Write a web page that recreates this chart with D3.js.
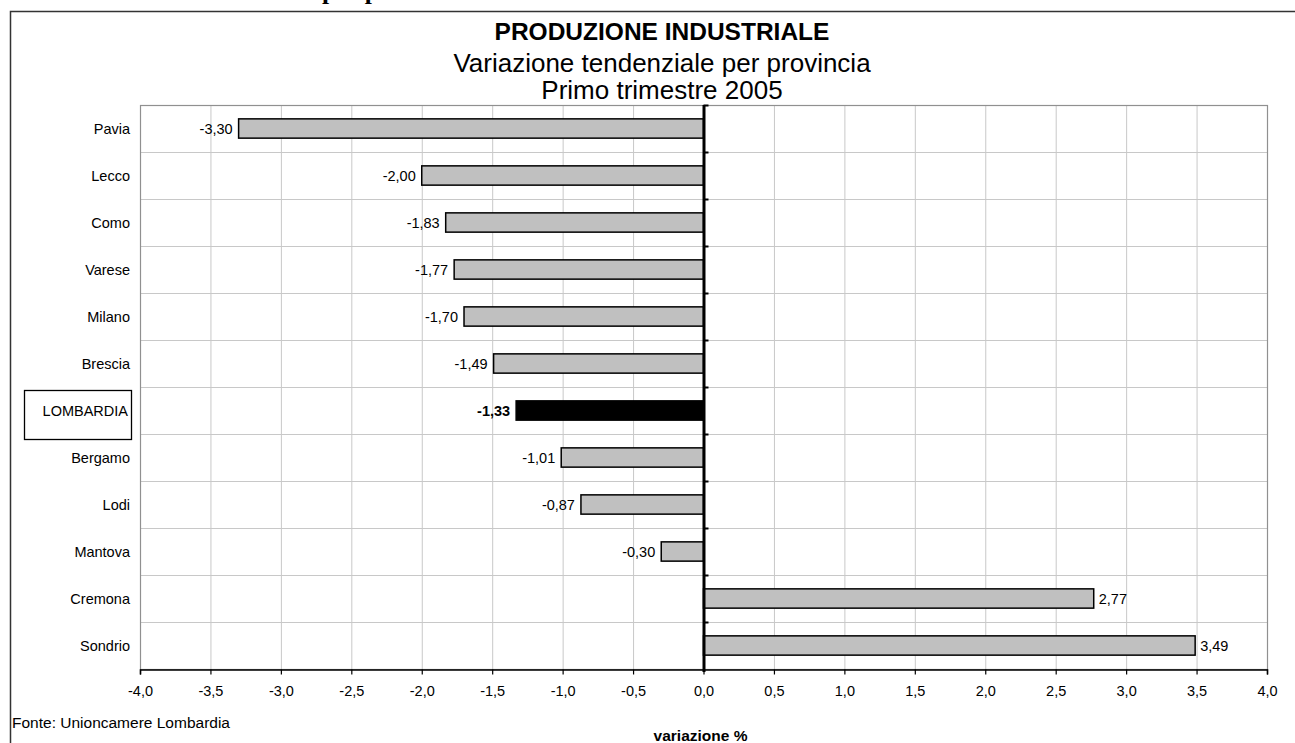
<!DOCTYPE html>
<html lang="it">
<head>
  <meta charset="UTF-8" />
  <title>Produzione industriale - variazione tendenziale per provincia</title>
  <style>
    body { margin: 0; background: #fff; }
    svg { display: block; font-family: Arial, "Liberation Sans", sans-serif; }
  </style>
</head>
<body>
  <svg width="1295" height="743"></svg>

  <script src="https://cdnjs.cloudflare.com/ajax/libs/d3/7.8.5/d3.min.js"></script>
  <script>
    // data
    const provinces = ["Pavia", "Lecco", "Como", "Varese", "Milano", "Brescia", "LOMBARDIA",
                       "Bergamo", "Lodi", "Mantova", "Cremona", "Sondrio"];
    const values = [-3.30, -2.00, -1.83, -1.77, -1.70, -1.49, -1.33, -1.01, -0.87, -0.30, 2.77, 3.49];
    const xTicks = [-4, -3.5, -3, -2.5, -2, -1.5, -1, -0.5, 0, 0.5, 1, 1.5, 2, 2.5, 3, 3.5, 4];
    const titles = ["PRODUZIONE INDUSTRIALE", "Variazione tendenziale per provincia", "Primo trimestre 2005"];
    const total = "LOMBARDIA";

    const rows = provinces.map((p, i) => ({ name: p, value: values[i] }));
    const fmt = v => d3.format(".2f")(v).replace(".", ",").replace("−", "-");
    const fmtTick = v => d3.format(".1f")(v).replace(".", ",").replace("−", "-");

    const svg = d3.select("svg");

    const plotLeft = 140, plotRight = 1267, plotTop = 105, plotBottom = 669;
    const small = 14.5;

    const x = d3.scaleLinear().domain([-4, 4]).range([plotLeft, plotRight]);
    const y = d3.scaleBand().domain(provinces).range([plotTop, plotBottom]).padding(0);
    const barH = y.bandwidth() * 0.41;

    // cut-off heading from the page above
    const serif = "'Liberation Serif', 'Times New Roman', serif";
    svg.append("text")
      .attr("x", 322).attr("y", -1.5)
      .attr("text-anchor", "end")
      .attr("font-family", serif)
      .attr("font-weight", "bold").attr("font-size", 25.5)
      .text("Produzione industriale ");
    svg.append("text")
      .attr("x", 322).attr("y", -1.5)
      .attr("font-family", serif)
      .attr("font-weight", "bold").attr("font-size", 25.5)
      .text("per provincia");

    // outer chart frame (runs off the right and bottom edges)
    svg.append("rect")
      .attr("x", 10.5).attr("y", 11.5)
      .attr("width", 1320).attr("height", 760)
      .attr("fill", "none").attr("stroke", "#333").attr("stroke-width", 1.5);

    // titles, centred on the whole chart frame
    svg.selectAll(".title")
      .data(titles)
      .join("text")
      .attr("class", "title")
      .attr("x", 662)
      .attr("y", (d, i) => [40, 71.5, 99][i])
      .attr("text-anchor", "middle")
      .attr("font-size", (d, i) => i === 0 ? 24.5 : 26)
      .attr("font-weight", (d, i) => i === 0 ? "bold" : "normal")
      .text(d => d);

    // vertical grid lines
    svg.append("g")
      .selectAll("line")
      .data(xTicks)
      .join("line")
      .attr("x1", d => x(d) + 0.5).attr("x2", d => x(d) + 0.5)
      .attr("y1", plotTop).attr("y2", plotBottom)
      .attr("stroke", "#c8c8c8").attr("stroke-width", 1);

    // horizontal grid lines at category boundaries
    svg.append("g")
      .selectAll("line")
      .data(provinces.slice(1))
      .join("line")
      .attr("x1", plotLeft).attr("x2", plotRight)
      .attr("y1", d => y(d) + 0.5).attr("y2", d => y(d) + 0.5)
      .attr("stroke", "#c8c8c8").attr("stroke-width", 1);

    // plot border
    svg.append("rect")
      .attr("x", plotLeft + 0.5).attr("y", plotTop + 0.5)
      .attr("width", plotRight - plotLeft).attr("height", plotBottom - plotTop)
      .attr("fill", "none").attr("stroke", "#909090").attr("stroke-width", 1.2);

    // bars
    svg.append("g")
      .selectAll("rect")
      .data(rows)
      .join("rect")
      .attr("x", d => x(Math.min(0, d.value)))
      .attr("y", d => y(d.name) + (y.bandwidth() - barH) / 2)
      .attr("width", d => Math.abs(x(d.value) - x(0)))
      .attr("height", barH)
      .attr("fill", d => d.name === total ? "#000" : "#c0c0c0")
      .attr("stroke", "#000").attr("stroke-width", 1.5);

    // value labels
    svg.append("g")
      .selectAll("text")
      .data(rows)
      .join("text")
      .attr("x", d => d.value < 0 ? x(d.value) - 6 : x(d.value) + 5)
      .attr("y", d => y(d.name) + y.bandwidth() / 2 + 5)
      .attr("text-anchor", d => d.value < 0 ? "end" : "start")
      .attr("font-size", small)
      .attr("font-weight", d => d.name === total ? "bold" : "normal")
      .text(d => fmt(d.value));

    // category labels
    svg.append("g")
      .selectAll("text")
      .data(provinces)
      .join("text")
      .attr("x", d => d === total ? 128 : 130)
      .attr("y", d => y(d) + y.bandwidth() / 2 + 5)
      .attr("text-anchor", "end")
      .attr("font-size", small)
      .text(d => d);

    // box round the regional total
    svg.append("rect")
      .attr("x", 24.5).attr("y", y(total) + 3.5)
      .attr("width", 107).attr("height", 49)
      .attr("fill", "none").attr("stroke", "#000").attr("stroke-width", 1.3);

    // zero axis with ticks at category boundaries
    const x0 = x(0);
    svg.append("line")
      .attr("x1", x0 + 0.5).attr("x2", x0 + 0.5)
      .attr("y1", plotTop).attr("y2", plotBottom + 3)
      .attr("stroke", "#000").attr("stroke-width", 3);
    svg.append("g")
      .selectAll("line")
      .data(provinces)
      .join("line")
      .attr("x1", x0).attr("x2", x0 + 5)
      .attr("y1", d => y(d) + 0.5).attr("y2", d => y(d) + 0.5)
      .attr("stroke", "#000").attr("stroke-width", 2);

    // bottom value axis
    const xAxis = svg.append("g")
      .attr("transform", `translate(0,${plotBottom + 0.5})`)
      .call(d3.axisBottom(x).tickValues(xTicks).tickFormat(fmtTick).tickSize(5).tickPadding(11));
    xAxis.select(".domain").attr("stroke", "#000").attr("stroke-width", 1.5);
    xAxis.selectAll(".tick line").attr("stroke", "#000").attr("stroke-width", 1.2);
    xAxis.selectAll(".tick text")
      .attr("font-family", "Arial, 'Liberation Sans', sans-serif")
      .attr("font-size", small).attr("fill", "#000");

    svg.append("text")
      .attr("x", x0 - 3).attr("y", 741)
      .attr("text-anchor", "middle")
      .attr("font-size", 15.5).attr("font-weight", "bold")
      .text("variazione %");

    svg.append("text")
      .attr("x", 12).attr("y", 728)
      .attr("font-size", 15.5)
      .text("Fonte: Unioncamere Lombardia");
  </script>
</body>
</html>
